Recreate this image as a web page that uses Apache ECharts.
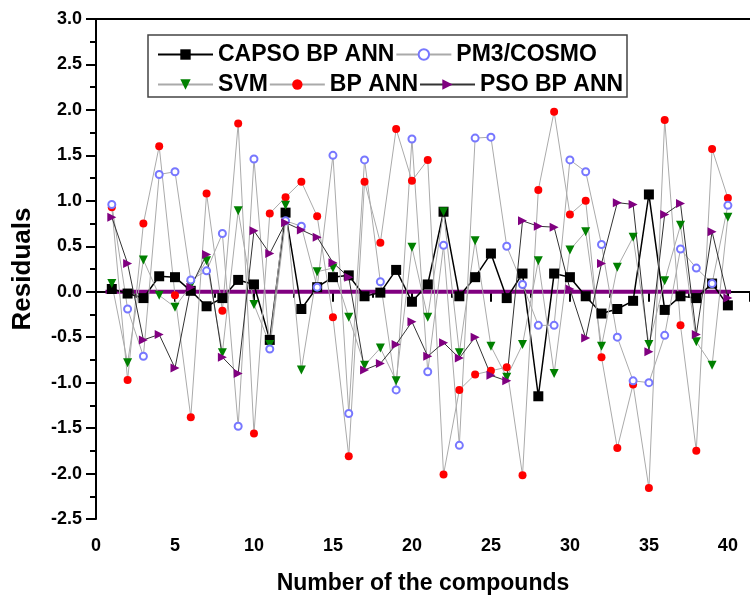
<!DOCTYPE html>
<html>
<head>
<meta charset="utf-8">
<script src="https://cdn.jsdelivr.net/npm/echarts@6/dist/echarts.min.js"></script>
<style>
  html, body { margin: 0; padding: 0; background: #fff; }
  #chart { width: 750px; height: 600px; }
</style>
</head>
<body>
<div id="chart"></div>
<script>
// compound numbers
var compounds = [1, 2, 3, 4, 5, 6, 7, 8, 9, 10, 11, 12, 13, 14, 15, 16, 17, 18, 19, 20,
  21, 22, 23, 24, 25, 26, 27, 28, 29, 30, 31, 32, 33, 34, 35, 36, 37, 38, 39, 40];

var capsoBp = [0.03, -0.02, -0.07, 0.17, 0.16, 0.01, -0.16, -0.07, 0.13, 0.08,
  -0.53, 0.87, -0.19, 0.05, 0.16, 0.18, -0.05, -0.01, 0.24, -0.11,
  0.08, 0.88, -0.05, 0.16, 0.42, -0.07, 0.2, -1.15, 0.2, 0.16,
  -0.05, -0.24, -0.19, -0.1, 1.07, -0.2, -0.05, -0.07, 0.09, -0.15];

var pm3Cosmo = [0.96, -0.19, -0.71, 1.29, 1.32, 0.13, 0.23, 0.64, -1.48, 1.46,
  -0.63, 0.78, 0.72, 0.05, 1.5, -1.34, 1.45, 0.11, -1.08, 1.68,
  -0.88, 0.51, -1.69, 1.69, 1.7, 0.5, 0.08, -0.37, -0.37, 1.45,
  1.32, 0.52, -0.5, -0.98, -1.0, -0.48, 0.47, 0.26, 0.09, 0.95];

var svm = [0.09, -0.78, 0.35, -0.04, -0.17, 0.07, 0.34, -0.67, 0.89, -0.14,
  -0.58, 0.95, -0.86, 0.22, 0.26, -0.28, -0.81, -0.62, -0.98, 0.49,
  -0.28, 0.88, -0.67, 0.56, -0.6, -0.94, -0.58, 0.34, -0.9, 0.46,
  0.66, -0.6, 0.27, 0.6, -0.58, 0.12, 0.73, -0.55, -0.81, 0.82];

var bpAnn = [0.93, -0.97, 0.75, 1.6, -0.04, -1.38, 1.08, -0.21, 1.85, -1.56,
  0.86, 1.04, 1.21, 0.83, -0.28, -1.81, 1.21, 0.54, 1.79, 1.22,
  1.45, -2.01, -1.08, -0.91, -0.87, -0.83, -2.02, 1.12, 1.98, 0.85,
  1.0, -0.72, -1.72, -1.02, -2.16, 1.89, -0.37, -1.75, 1.57, 1.03];

var psoBp = [0.82, 0.31, -0.53, -0.47, -0.84, 0.05, 0.41, -0.72, -0.9, 0.67,
  0.42, 0.76, 0.68, 0.6, 0.32, 0.16, -0.86, -0.79, -0.58, -0.33,
  -0.71, -0.56, -0.73, -0.5, -0.92, -0.98, 0.78, 0.72, 0.71, 0.03,
  -0.51, 0.31, 0.98, 0.96, -0.66, 0.85, 0.97, -0.47, 0.66, -0.07];

// zero reference line (start / end compound)
var zeroLine = [[0.6, 0], [40.2, 0]];

var xTicks = [0, 5, 10, 15, 20, 25, 30, 35, 40];
var yTicks = [-2.5, -2.0, -1.5, -1.0, -0.5, 0.0, 0.5, 1.0, 1.5, 2.0, 2.5, 3.0];

function pairs(vals) {
  return compounds.map(function (c, i) { return [c, vals[i]]; });
}

var font = "'Liberation Sans', Arial, sans-serif";
var chart = echarts.init(document.getElementById("chart"));

var option = {
  animation: false,
  textStyle: { fontFamily: font },
  grid: {
    left: 96,
    right: 0,
    top: 19,
    bottom: 78
  },
  graphic: [
    {
      type: "rect",
      shape: { x: 148, y: 35, width: 479, height: 62 },
      style: { fill: "#fff", stroke: "#444", lineWidth: 1.5 },
      z: 90
    }
  ],
  legend: [
    {
      data: ["CAPSO BP ANN", "PM3/COSMO"],
      left: 152,
      top: 38,
      orient: "horizontal",
      itemWidth: 55,
      itemHeight: 13,
      itemGap: 1,
      z: 100,
      textStyle: { fontSize: 23, fontWeight: "bold", color: "#000", fontFamily: font }
    },
    {
      data: ["SVM", "BP ANN", "PSO BP ANN"],
      left: 152,
      top: 68,
      orient: "horizontal",
      itemWidth: 55,
      itemHeight: 13,
      itemGap: 1,
      z: 100,
      textStyle: { fontSize: 23, fontWeight: "bold", color: "#000", fontFamily: font }
    }
  ],
  xAxis: [
    {
      type: "value",
      min: 0,
      max: 41.4,
      interval: 5,
      name: "Number of the compounds",
      nameLocation: "middle",
      nameGap: 53,
      nameTextStyle: { fontSize: 23, fontWeight: "bold", color: "#000", fontFamily: font },
      axisLine: { show: true, lineStyle: { color: "#000", width: 2 } },
      axisTick: { show: true, length: 10, lineStyle: { color: "#000", width: 2 } },
      minorTick: { show: true, splitNumber: 2, length: 6, lineStyle: { color: "#000", width: 2 } },
      splitLine: { show: false },
      axisLabel: {
        margin: 18,
        fontSize: 18,
        fontWeight: "bold",
        color: "#000",
        showMaxLabel: false,
        formatter: function (v) { return xTicks.indexOf(v) >= 0 ? String(v) : ""; }
      }
    },
    {
      type: "value",
      position: "top",
      min: 0,
      max: 41.4,
      axisLine: { show: true, lineStyle: { color: "#000", width: 2 } },
      axisTick: { show: false },
      axisLabel: { show: false },
      splitLine: { show: false }
    }
  ],
  yAxis: {
    type: "value",
    min: -2.5,
    max: 3.0,
    interval: 0.5,
    name: "Residuals",
    nameLocation: "middle",
    nameGap: 60,
    nameTextStyle: { fontSize: 26, fontWeight: "bold", color: "#000", fontFamily: font },
    axisLine: { show: true, lineStyle: { color: "#000", width: 2 } },
    axisTick: { show: true, length: 10, lineStyle: { color: "#000", width: 2 } },
    minorTick: { show: true, splitNumber: 2, length: 6, lineStyle: { color: "#000", width: 2 } },
    splitLine: { show: false },
    axisLabel: {
      margin: 14,
      fontSize: 18,
      fontWeight: "bold",
      color: "#000",
      formatter: function (v) { return v.toFixed(1); }
    }
  },
  series: [
    {
      name: "zero",
      type: "line",
      data: zeroLine,
      symbol: "none",
      lineStyle: { color: "#800080", width: 4 },
      silent: true
    },
    {
      name: "CAPSO BP ANN",
      type: "line",
      data: pairs(capsoBp),
      symbol: "rect",
      symbolSize: 10,
      itemStyle: { color: "#000" },
      lineStyle: { color: "#000", width: 1.5 }
    },
    {
      name: "BP ANN",
      type: "line",
      data: pairs(bpAnn),
      symbol: "circle",
      symbolSize: 8,
      itemStyle: { color: "#ff0000" },
      lineStyle: { color: "#aaaaaa", width: 1 }
    },
    {
      name: "SVM",
      type: "line",
      data: pairs(svm),
      symbol: "triangle",
      symbolRotate: 180,
      symbolSize: 9,
      itemStyle: { color: "#008000" },
      lineStyle: { color: "#aaaaaa", width: 1 }
    },
    {
      name: "PM3/COSMO",
      type: "line",
      data: pairs(pm3Cosmo),
      symbol: "emptyCircle",
      symbolSize: 7,
      itemStyle: { color: "#7777ff", borderColor: "#7777ff", borderWidth: 1 },
      lineStyle: { color: "#aaaaaa", width: 1 }
    },
    {
      name: "PSO BP ANN",
      type: "line",
      data: pairs(psoBp),
      symbol: "triangle",
      symbolRotate: -90,
      symbolSize: 9,
      itemStyle: { color: "#800080" },
      lineStyle: { color: "#333333", width: 1 }
    }
  ]
};

chart.setOption(option);
</script>
</body>
</html>
